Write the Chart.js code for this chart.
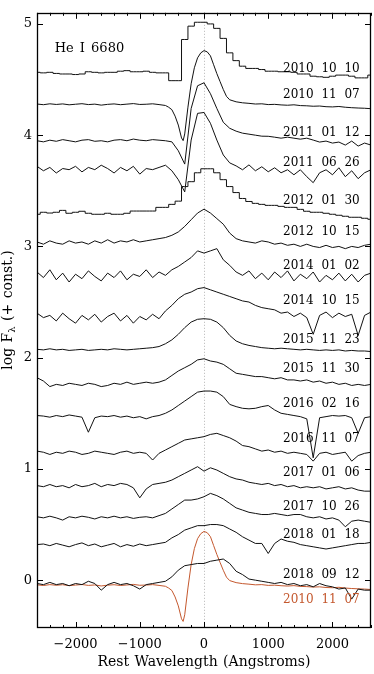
<!DOCTYPE html>
<html><head><meta charset="utf-8">
<script src="https://cdn.jsdelivr.net/npm/chart.js@4.4.1/dist/chart.umd.min.js"></script>
<style>html,body{margin:0;padding:0;background:#fff;}#wrap{width:374px;height:674px;}</style>
</head><body><div id="wrap"><canvas id="c" width="374" height="674"></canvas></div>
<script>
// ---- data (rest wavelength in Angstroms, log F + const.) ----
const wave = [-2600,-2500,-2400,-2300,-2200,-2100,-2000,
 -1900,-1800,-1700,-1600,-1500,-1400,-1300,-1200,-1100,-1000,
 -900,-800,-700,-600,-500,-400,-300,-200,-100,0,
 100,200,300,400,500,600,700,800,900,1000,
 1100,1200,1300,1400,1500,1600,1700,1800,1900,2000,
 2100,2200,2300,2400,2500,2600];
// finer grid for the 2010 11 07 profile
const waveP = [-2600,-2500,-2400,-2300,-2200,-2100,-2000,-1900,-1800,-1700,-1600,-1500,-1400,-1300,-1200,-1100,-1000,-900,-800,-700,
 -600,-550,-500,-450,-400,-350,-325,-300,-250,-200,-150,-100,-50,0,50,100,150,200,250,300,350,400,
 500,600,700,800,900,1000,1100,1200,1300,1400,1500,1600,1700,1800,1900,2000,2100,2200,2300,2400,2500,2600];

const f20101010 = [4.565,4.56,4.565,4.555,4.55,4.55,4.545,
 4.55,4.57,4.565,4.56,4.565,4.565,4.575,4.58,4.57,4.57,
 4.575,4.565,4.56,4.56,4.49,4.49,4.86,4.98,5.015,5.015,
 5.0,4.96,4.87,4.74,4.67,4.62,4.60,4.60,4.59,4.575,
 4.575,4.57,4.57,4.565,4.55,4.55,4.53,4.525,4.52,4.53,
 4.54,4.54,4.53,4.515,4.515,4.54];
const f20101107 = [-0.042,-0.048,-0.040,-0.046,-0.041,-0.049,-0.044,-0.039,-0.047,-0.043,-0.052,-0.045,-0.041,-0.048,-0.043,-0.038,-0.046,-0.044,-0.040,-0.047,
 -0.055,-0.071,-0.093,-0.151,-0.231,-0.347,-0.371,-0.311,-0.07,0.14,0.284,0.373,0.418,0.438,0.427,0.391,0.311,0.231,0.16,0.089,0.027,-0.004,
 -0.022,-0.031,-0.036,-0.042,-0.040,-0.047,-0.045,-0.050,-0.053,-0.049,-0.056,-0.058,-0.062,-0.060,-0.066,-0.068,-0.064,-0.071,-0.075,-0.078,-0.080,-0.084];
const offset20101107 = 4.322;
const f20110112 = [3.95,3.94,3.955,3.945,3.96,3.95,3.94,
 3.955,3.96,3.945,3.95,3.94,3.955,3.96,3.95,3.965,3.955,
 3.95,3.96,3.955,3.95,3.94,3.86,3.74,4.24,4.444,4.471,
 4.373,4.24,4.116,4.062,4.036,4.018,4.009,4.0,3.991,3.99,
 3.982,3.973,3.982,3.973,3.964,3.973,3.956,3.938,3.947,3.929,
 3.938,3.911,3.947,3.902,3.929,3.911];
const f20110626 = [3.72,3.68,3.71,3.66,3.70,3.69,3.72,
 3.67,3.71,3.69,3.73,3.70,3.66,3.71,3.68,3.72,3.65,
 3.70,3.69,3.71,3.73,3.68,3.60,3.49,3.956,4.196,4.204,
 4.107,3.956,3.822,3.751,3.724,3.689,3.733,3.68,3.716,3.671,
 3.707,3.662,3.689,3.644,3.689,3.627,3.573,3.662,3.689,3.644,
 3.707,3.627,3.68,3.609,3.662,3.689];
const f20120130 = [3.289,3.307,3.30,3.307,3.324,3.298,3.307,
 3.316,3.298,3.289,3.289,3.298,3.289,3.289,3.298,3.318,3.318,
 3.318,3.318,3.351,3.351,3.378,3.407,3.538,3.582,3.662,3.698,
 3.698,3.662,3.60,3.538,3.484,3.431,3.404,3.387,3.378,3.369,
 3.369,3.36,3.351,3.351,3.333,3.316,3.307,3.307,3.298,3.289,
 3.28,3.271,3.262,3.262,3.253,3.244];
const f20121015 = [3.04,3.02,3.05,3.03,3.02,3.05,3.03,
 3.04,3.02,3.05,3.03,3.06,3.03,3.05,3.04,3.06,3.04,
 3.05,3.06,3.07,3.08,3.10,3.13,3.18,3.24,3.30,3.335,
 3.30,3.25,3.20,3.12,3.07,3.05,3.04,3.03,3.05,3.04,
 3.02,3.03,3.01,3.02,3.00,3.02,3.00,2.99,3.01,2.99,
 3.00,2.98,3.00,2.99,3.01,3.02];
const f20140102 = [2.77,2.72,2.79,2.70,2.76,2.68,2.75,
 2.71,2.78,2.73,2.69,2.76,2.72,2.78,2.70,2.75,2.73,
 2.79,2.72,2.77,2.74,2.79,2.82,2.86,2.90,2.96,2.94,
 2.96,2.98,2.88,2.83,2.77,2.74,2.78,2.71,2.76,2.70,
 2.77,2.72,2.78,2.69,2.75,2.71,2.77,2.68,2.74,2.70,
 2.76,2.69,2.75,2.68,2.74,2.76];
const f20141015 = [2.40,2.36,2.38,2.33,2.40,2.35,2.31,
 2.38,2.34,2.39,2.32,2.37,2.40,2.33,2.38,2.31,2.37,
 2.34,2.39,2.35,2.42,2.47,2.53,2.57,2.59,2.62,2.63,
 2.61,2.59,2.57,2.55,2.53,2.51,2.50,2.47,2.45,2.44,
 2.43,2.40,2.41,2.37,2.40,2.36,2.21,2.38,2.41,2.36,
 2.40,2.37,2.39,2.20,2.38,2.41];
const f20151123 = [2.075,2.07,2.08,2.07,2.075,2.065,2.07,
 2.075,2.065,2.07,2.075,2.07,2.08,2.075,2.07,2.075,2.08,
 2.085,2.09,2.10,2.125,2.16,2.21,2.27,2.32,2.345,2.35,
 2.345,2.32,2.27,2.20,2.15,2.125,2.11,2.10,2.09,2.085,
 2.08,2.085,2.08,2.075,2.07,2.075,2.07,2.065,2.07,2.065,
 2.07,2.06,2.065,2.06,2.06,2.055];
const f20151130 = [1.82,1.79,1.74,1.76,1.75,1.77,1.76,
 1.75,1.77,1.76,1.74,1.75,1.77,1.76,1.78,1.76,1.77,
 1.78,1.77,1.78,1.80,1.84,1.88,1.91,1.94,1.98,1.99,
 1.97,1.96,1.94,1.90,1.86,1.85,1.84,1.83,1.83,1.82,
 1.81,1.82,1.80,1.80,1.79,1.80,1.78,1.79,1.77,1.78,
 1.76,1.77,1.75,1.76,1.75,1.76];
const f20160216 = [1.48,1.475,1.465,1.48,1.47,1.485,1.475,
 1.465,1.33,1.46,1.475,1.47,1.48,1.465,1.475,1.46,1.47,
 1.45,1.47,1.48,1.50,1.53,1.57,1.61,1.65,1.69,1.70,
 1.70,1.69,1.65,1.58,1.56,1.545,1.54,1.545,1.56,1.57,
 1.53,1.50,1.49,1.48,1.47,1.45,1.10,1.46,1.47,1.48,
 1.475,1.48,1.46,1.32,1.46,1.47];
const f20161107 = [1.16,1.15,1.13,1.15,1.14,1.16,1.15,
 1.13,1.14,1.16,1.15,1.14,1.13,1.15,1.16,1.14,1.15,
 1.14,1.08,1.14,1.17,1.20,1.23,1.26,1.27,1.28,1.29,
 1.31,1.32,1.30,1.28,1.25,1.21,1.20,1.18,1.16,1.17,
 1.15,1.16,1.14,1.15,1.14,1.13,1.07,1.14,1.15,1.13,
 1.14,1.15,1.07,1.12,1.14,1.15];
const f20170106 = [0.85,0.84,0.86,0.84,0.85,0.83,0.86,
 0.84,0.85,0.87,0.84,0.86,0.85,0.87,0.86,0.83,0.74,
 0.82,0.86,0.87,0.88,0.90,0.93,0.96,0.99,1.02,0.98,
 1.01,0.99,0.96,0.93,0.91,0.90,0.88,0.87,0.86,0.87,
 0.85,0.86,0.84,0.85,0.83,0.84,0.83,0.84,0.82,0.83,
 0.84,0.82,0.83,0.81,0.80,0.80];
const f20171026 = [0.57,0.56,0.575,0.56,0.54,0.57,0.56,
 0.575,0.565,0.55,0.57,0.56,0.575,0.56,0.57,0.555,0.565,
 0.57,0.56,0.58,0.60,0.64,0.68,0.72,0.72,0.73,0.75,
 0.78,0.76,0.73,0.69,0.65,0.63,0.61,0.60,0.59,0.59,
 0.60,0.59,0.58,0.59,0.59,0.57,0.56,0.57,0.55,0.56,
 0.54,0.48,0.53,0.54,0.53,0.52];
const f20180118 = [0.32,0.325,0.31,0.33,0.315,0.30,0.32,
 0.335,0.31,0.325,0.30,0.315,0.33,0.30,0.32,0.305,0.325,
 0.31,0.32,0.33,0.34,0.38,0.41,0.45,0.47,0.49,0.49,
 0.50,0.50,0.49,0.46,0.43,0.39,0.36,0.33,0.33,0.24,
 0.33,0.37,0.35,0.34,0.32,0.31,0.30,0.29,0.28,0.29,
 0.30,0.31,0.32,0.33,0.33,0.34];
const f20180912 = [-0.03,-0.04,-0.02,-0.04,-0.03,-0.05,-0.03,
 -0.04,-0.01,-0.03,-0.09,-0.04,-0.02,-0.04,-0.03,-0.05,-0.08,
 -0.04,-0.03,-0.02,-0.01,0.03,0.09,0.13,0.14,0.15,0.15,
 0.17,0.18,0.19,0.15,0.08,0.05,0.01,0.0,-0.01,-0.02,
 -0.03,-0.02,-0.04,-0.03,-0.05,-0.04,-0.06,-0.03,-0.05,-0.06,
 -0.08,-0.07,-0.17,-0.08,-0.09,-0.09];

const dateLabels = ['2010 10 10','2010 11 07','2011 01 12','2011 06 26','2012 01 30','2012 10 15','2014 01 02','2014 10 15','2015 11 23','2015 11 30','2016 02 16','2016 11 07','2017 01 06','2017 10 26','2018 01 18','2018 09 12','2010 11 07'];
const dateLabelY = [4.598,4.362,4.018,3.748,3.407,3.135,2.829,2.513,2.157,1.896,1.585,1.274,0.963,0.658,0.409,0.051,-0.178];
const labelRightW = 2425;
const lineTitle = 'He I 6680';
const lineTitlePos = [-2325, 4.776];
const xTicks = [-2000,-1000,0,1000,2000];
const yTicks = [0,1,2,3,4,5];
const xRange = [-2600, 2600];
const yRange = [-0.43, 5.1];

// ---- build datasets ----
const BLACK = '#111111', ORANGE = '#c4582e';
const pts = (xs, ys, off=0) => xs.map((w,i)=>({x:w, y:ys[i]+off}));
const series = [
 {d:pts(wave,f20101010), step:true},
 {d:pts(waveP,f20101107,offset20101107)},
 {d:pts(wave,f20110112)},
 {d:pts(wave,f20110626)},
 {d:pts(wave,f20120130), step:true},
 {d:pts(wave,f20121015)},
 {d:pts(wave,f20140102)},
 {d:pts(wave,f20141015)},
 {d:pts(wave,f20151123)},
 {d:pts(wave,f20151130)},
 {d:pts(wave,f20160216)},
 {d:pts(wave,f20161107)},
 {d:pts(wave,f20170106)},
 {d:pts(wave,f20171026)},
 {d:pts(wave,f20180118)},
 {d:pts(wave,f20180912)},
 {d:pts(waveP,f20101107), color:ORANGE}
];
const datasets = series.map(s=>({
  data:s.d, borderColor:s.color||BLACK, borderWidth:1, pointRadius:0, tension:0,
  stepped: s.step ? 'middle' : false, fill:false, showLine:true
}));

const SERIF = '"DejaVu Serif", "Liberation Serif", serif';
const fmt = v => v < 0 ? '\u2212' + Math.abs(v) : String(v);

const decor = {
  id:'decor',
  beforeDatasetsDraw(chart){
    const {ctx, chartArea:a, scales:{x}} = chart;
    const px = Math.round(x.getPixelForValue(0)) + 0.5;
    ctx.save();
    ctx.strokeStyle = '#b5b5b5'; ctx.lineWidth = 1; ctx.setLineDash([1,2]);
    ctx.beginPath(); ctx.moveTo(px, a.top); ctx.lineTo(px, a.bottom); ctx.stroke();
    ctx.restore();
  },
  afterDatasetsDraw(chart){
    const {ctx, chartArea:a, scales:{x,y}} = chart;
    ctx.save();
    // frame
    ctx.strokeStyle = '#000'; ctx.lineWidth = 1.3; ctx.setLineDash([]);
    ctx.strokeRect(Math.round(a.left)+0.5, Math.round(a.top)+0.5, Math.round(a.right-a.left)-1, Math.round(a.bottom-a.top)-1);
    ctx.lineWidth = 1;
    // x ticks (inward, top & bottom)
    ctx.beginPath();
    for (let w = xRange[0]; w <= xRange[1]; w += 200) {
      const px = Math.round(x.getPixelForValue(w)) + 0.5;
      const major = xTicks.includes(w);
      const L = major ? 6 : 3;
      ctx.moveTo(px, a.bottom); ctx.lineTo(px, a.bottom - L);
      ctx.moveTo(px, a.top); ctx.lineTo(px, a.top + L);
    }
    for (const v of yTicks) {
      const py = Math.round(y.getPixelForValue(v)) + 0.5;
      ctx.moveTo(a.left, py); ctx.lineTo(a.left + 6, py);
      ctx.moveTo(a.right, py); ctx.lineTo(a.right - 6, py);
    }
    ctx.stroke();
    // date labels
    ctx.font = '12px ' + SERIF;
    try { ctx.wordSpacing = '4px'; } catch(e) {}
    ctx.textAlign = 'right'; ctx.textBaseline = 'middle';
    const rx = x.getPixelForValue(labelRightW);
    dateLabels.forEach((t,i)=>{
      ctx.fillStyle = i === dateLabels.length-1 ? ORANGE : '#000';
      ctx.fillText(t, rx, y.getPixelForValue(dateLabelY[i]));
    });
    // line id
    ctx.fillStyle = '#000'; ctx.textAlign = 'left'; ctx.font = '13px ' + SERIF;
    try { ctx.wordSpacing = '2px'; } catch(e) {}
    ctx.fillText(lineTitle, x.getPixelForValue(lineTitlePos[0]), y.getPixelForValue(lineTitlePos[1]));
    try { ctx.wordSpacing = '1px'; } catch(e) {}
    // x title
    ctx.textAlign = 'center'; ctx.font = '14px ' + SERIF;
    ctx.fillText('Rest Wavelength (Angstroms)', (a.left + a.right)/2, 662);
    // y title with subscript
    ctx.translate(8, 310); ctx.rotate(-Math.PI/2);
    ctx.textAlign = 'left'; ctx.textBaseline = 'middle';
    const p1 = 'log F', p2 = '\u03bb', p3 = ' (+ const.)';
    ctx.font = '14px ' + SERIF; const w1 = ctx.measureText(p1).width, w3 = ctx.measureText(p3).width;
    ctx.font = '10px ' + SERIF; const w2 = ctx.measureText(p2).width;
    let sx = -(w1+w2+w3)/2;
    ctx.font = '14px ' + SERIF; ctx.fillText(p1, sx, 0); sx += w1;
    ctx.font = '10px ' + SERIF; ctx.fillText(p2, sx, 4); sx += w2;
    ctx.font = '14px ' + SERIF; ctx.fillText(p3, sx, 0);
    ctx.restore();
  }
};

new Chart(document.getElementById('c'), {
  type:'scatter',
  data:{datasets},
  options:{
    responsive:false, animation:false, devicePixelRatio:1,
    layout:{padding:{top:6, right:3, left:0, bottom:0}},
    plugins:{legend:{display:false}, tooltip:{enabled:false}},
    scales:{
      x:{type:'linear', min:xRange[0], max:xRange[1],
         afterBuildTicks:s=>{s.ticks = xTicks.map(v=>({value:v}));},
         afterFit:s=>{s.height = 46;},
         grid:{display:false, drawTicks:false}, border:{display:false},
         ticks:{font:{family:SERIF, size:13}, color:'#000', padding:9, maxRotation:0, autoSkip:false, callback:fmt}},
      y:{type:'linear', min:yRange[0], max:yRange[1],
         afterBuildTicks:s=>{s.ticks = yTicks.map(v=>({value:v}));},
         afterFit:s=>{s.width = 37;},
         grid:{display:false, drawTicks:false}, border:{display:false},
         ticks:{font:{family:SERIF, size:13}, color:'#000', padding:5, autoSkip:false, callback:fmt}}
    }
  },
  plugins:[decor]
});
</script></body></html>
